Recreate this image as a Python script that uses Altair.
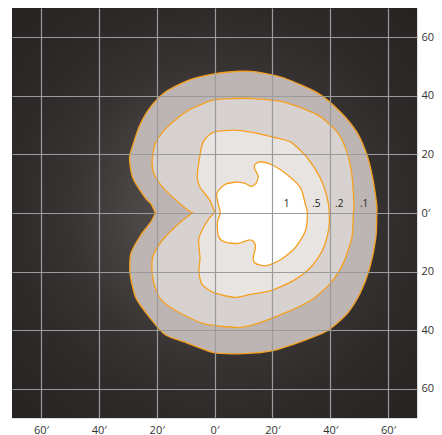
import altair as alt
import pandas as pd

# Isopter contours (degrees): x = horizontal, y = vertical (notch points listed twice = sharp corner)
c01_x = [-0.2, 8.6, 14.4, 24.0, 35.6, 43.5, 49.2, 52.7, 54.7, 56.1, 56.1, 55.8, 53.7, 50.3, 45.8, 39.0, 30.8, 20.2, 10.0, -0.2, -10.5, -17.0, -22.4, -27.2, -29.2, -28.9, -25.5, -22.1, -20.4, -20.4, -22.0, -23.8, -28.2, -29.4, -28.2, -25.8, -22.4, -17.0, -8.8]
c01_y = [47.5, 48.4, 48.2, 46.1, 41.0, 34.5, 27.6, 19.8, 11.9, 2.6, -0.1, -8.3, -18.6, -27.5, -34.4, -40.2, -43.6, -47.0, -48.0, -47.7, -44.0, -41.6, -35.7, -28.9, -20.6, -13.8, -7.6, -3.2, 0.0, 0.0, 3.2, 5.0, 11.9, 18.7, 23.2, 30.0, 35.8, 41.3, 45.4]

c02_x = [-0.2, 6.6, 12.7, 24.0, 35.6, 42.4, 45.8, 47.5, 48.2, 48.0, 47.5, 44.5, 40.0, 33.2, 24.0, 12.7, 7.6, -3.7, -13.5, -19.0, -21.4, -21.4, -18.0, -12.2, -7.7, -7.7, -11.2, -17.0, -20.7, -21.6, -20.3, -15.6, -8.8]
c02_y = [38.6, 39.1, 39.1, 37.9, 33.5, 27.6, 20.8, 12.9, 2.6, -0.1, -8.3, -17.2, -24.1, -29.9, -34.3, -38.4, -39.1, -37.8, -33.3, -28.9, -22.0, -15.2, -9.3, -3.5, 0.0, 0.0, 2.6, 7.8, 12.9, 17.4, 24.2, 30.0, 35.2]

c05_x = [0.1, 6.6, 14.4, 20.2, 26.4, 32.2, 36.6, 39.0, 39.7, 39.4, 37.3, 33.2, 27.4, 19.6, 12.7, 6.9, -0.2, -4.3, -5.4, -5.0, -5.5, -4.3, -1.6, 0.2, 0.2, -1.6, -5.0, -6.0, -5.4, -4.3, -3.0]
c05_y = [27.7, 28.3, 27.3, 25.9, 24.2, 18.7, 11.9, 5.0, -0.1, -5.9, -12.8, -18.6, -23.0, -26.5, -27.7, -28.8, -27.2, -24.4, -19.6, -15.5, -9.3, -5.9, -1.5, 0.0, 0.0, 4.3, 8.8, 12.2, 17.4, 23.2, 25.6]

c1_x = [0.8, 3.2, 6.9, 10.3, 12.7, 14.4, 15.1, 13.8, 14.1, 16.1, 20.2, 25.4, 29.8, 31.5, 32.1, 31.5, 28.1, 23.0, 17.8, 14.1, 13.4, 14.1, 13.8, 12.0, 8.3, 3.9, 1.5, 1.0, 1.1, 2.0, 1.3]
c1_y = [6.7, 9.5, 10.5, 10.2, 9.1, 10.2, 12.6, 15.3, 16.7, 17.5, 16.3, 12.9, 8.5, 2.6, 0.0, -5.9, -11.6, -15.9, -18.0, -17.2, -15.2, -12.1, -10.0, -9.2, -10.4, -10.0, -8.3, -5.2, -2.5, -0.1, 3.0]

contour_names = [".1", ".2", ".5", "1"]
contour_fills = ["#bdb5b3", "#d7d1cf", "#e8e4e2", "#ffffff"]
contour_xs = [c01_x, c02_x, c05_x, c1_x]
contour_ys = [c01_y, c02_y, c05_y, c1_y]

label_text = ["1", ".5", ".2", ".1"]
label_x = [24.9, 35.2, 43.1, 51.7]
label_y = [3.2, 3.2, 3.2, 3.2]

ticks = [-60, -40, -20, 0, 20, 40, 60]
dom = [-70, 70]

xs = alt.Scale(domain=dom, nice=False, zero=False)
ys = alt.Scale(domain=dom, nice=False, zero=False)

x_axis = alt.Axis(values=ticks, grid=True, gridColor="#9b9b9b", gridWidth=1.2, gridOpacity=1,
                  domain=False, ticks=False, labelPadding=6, title=None, zindex=1,
                  labelExpr="abs(datum.value) + '\u2032'", labelFontSize=11,
                  labelFont="Open Sans", labelColor="#333333")
y_axis = alt.Axis(values=ticks, grid=True, gridColor="#9b9b9b", gridWidth=1.2, gridOpacity=1,
                  domain=False, ticks=False, labelPadding=4, title=None, zindex=1, orient="right",
                  labelExpr="datum.value == 0 ? '0\u2032' : abs(datum.value)", labelFontSize=11,
                  labelFont="Open Sans", labelColor="#333333", labelAlign="left")

bg = alt.Chart(pd.DataFrame({"a": [0]})).mark_rect(
    fill={"gradient": "radial", "x1": 0.5, "y1": 0.5, "r1": 0, "x2": 0.5, "y2": 0.5, "r2": 0.72,
          "stops": [{"offset": 0, "color": "#5a5655"}, {"offset": 0.27, "color": "#4a4645"},
                    {"offset": 0.5, "color": "#373332"}, {"offset": 0.7, "color": "#2e2a29"},
                    {"offset": 1, "color": "#262221"}]}
).encode(
    x=alt.X(datum=dom[0], scale=xs, axis=x_axis),
    x2=alt.X2(datum=dom[1]),
    y=alt.Y(datum=dom[0], scale=ys, axis=y_axis),
    y2=alt.Y2(datum=dom[1]),
)

layers = [bg]
for name, fill, cx, cy in zip(contour_names, contour_fills, contour_xs, contour_ys):
    df = pd.DataFrame({"x": cx, "y": cy, "o": list(range(len(cx)))})
    layers.append(
        alt.Chart(df).mark_line(fill=fill, stroke="#f5a021", strokeWidth=1.3,
                                interpolate="cardinal-closed", tension=0.3).encode(
            x=alt.X("x:Q", scale=xs, axis=x_axis),
            y=alt.Y("y:Q", scale=ys, axis=y_axis),
            order="o:Q",
        )
    )

lab_df = pd.DataFrame({"t": label_text, "x": label_x, "y": label_y})
layers.append(
    alt.Chart(lab_df).mark_text(fontSize=10, font="Open Sans", color="#222222").encode(
        x=alt.X("x:Q", scale=xs, axis=x_axis),
        y=alt.Y("y:Q", scale=ys, axis=y_axis),
        text="t:N",
    )
)

chart = alt.layer(*layers).properties(
    width=405, height=410,
    autosize=alt.AutoSizeParams(type="none"),
    padding={"left": 4, "top": 0, "right": 17, "bottom": 20},
).configure_view(stroke="#9b9b9b", strokeWidth=2).configure(background="white")

chart.save("out.html", embed_options={"renderer": "svg", "actions": False})
